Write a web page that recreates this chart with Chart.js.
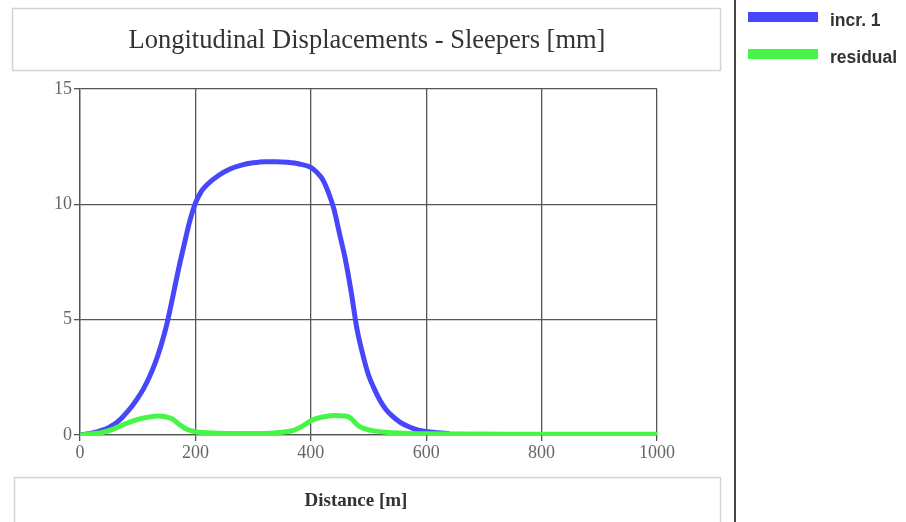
<!DOCTYPE html>
<html>
<head>
<meta charset="utf-8">
<script src="https://cdn.jsdelivr.net/npm/chart.js@4"></script>
<style>
  html, body { margin: 0; padding: 0; background: #fff; }
  #chart { display: block; }
</style>
</head>
<body>
<canvas id="chart" width="906" height="522"></canvas>
<script>
// distance along the track [m] and displacements [mm]
const distIncr = [0, 20, 40, 50, 60, 70, 80, 90, 100, 110, 120, 130, 140, 150, 160, 170, 180, 190, 200, 210, 220, 240, 260, 280, 300, 320, 340, 360, 380, 400, 410, 420, 430, 440, 450, 460, 470, 480, 490, 500, 510, 520, 530, 540, 555, 570, 585, 600, 620, 640];
const incr1 = [0, 0.08, 0.22, 0.33, 0.47, 0.68, 0.95, 1.25, 1.6, 2.0, 2.5, 3.1, 3.85, 4.75, 5.9, 7.1, 8.2, 9.25, 10.05, 10.55, 10.85, 11.25, 11.53, 11.7, 11.8, 11.85, 11.85, 11.82, 11.75, 11.6, 11.4, 11.1, 10.55, 9.8, 8.7, 7.6, 6.2, 4.6, 3.5, 2.6, 2.0, 1.5, 1.12, 0.85, 0.55, 0.36, 0.22, 0.15, 0.1, 0.06];

const distResid = [0, 20, 40, 60, 80, 100, 120, 135, 150, 160, 170, 185, 200, 240, 280, 320, 350, 370, 390, 400, 420, 440, 460, 470, 480, 490, 505, 530, 560, 600, 700, 800, 900, 1000];
const residual = [0, 0.05, 0.12, 0.28, 0.5, 0.68, 0.78, 0.82, 0.78, 0.7, 0.5, 0.25, 0.14, 0.08, 0.06, 0.07, 0.12, 0.2, 0.45, 0.62, 0.78, 0.85, 0.82, 0.72, 0.45, 0.3, 0.2, 0.12, 0.08, 0.05, 0.04, 0.03, 0.03, 0.03];

const xTicks = [0, 200, 400, 600, 800, 1000];
const yTicks = [0, 5, 10, 15];

const titleText = "Longitudinal Displacements - Sleepers [mm]";
const xTitleText = "Distance [m]";
const seriesNames = ["incr. 1", "residual"];
const seriesColors = ["#4646fa", "#46f546"];

function toPoints(xs, ys) {
    return xs.map((x, i) => ({x: x, y: ys[i]}));
}

// boxes, legend and separator drawn around the plot
const frame = {
    id: "frame",
    afterDraw(chart) {
        const ctx = chart.ctx;
        ctx.save();

        // title box
        ctx.strokeStyle = "#d4d4d4";
        ctx.lineWidth = 1.5;
        ctx.strokeRect(12.5, 8.5, 708, 62);
        ctx.fillStyle = "#333";
        ctx.font = "26.5px 'Liberation Serif'";
        ctx.textAlign = "center";
        ctx.textBaseline = "middle";
        ctx.fillText(titleText, 367, 41);

        // x axis title box
        ctx.strokeRect(14.5, 477.5, 706, 60);
        ctx.font = "bold 19px 'Liberation Serif'";
        ctx.fillText(xTitleText, 356, 501);

        // separator
        ctx.strokeStyle = "#444";
        ctx.lineWidth = 2;
        ctx.beginPath();
        ctx.moveTo(735, 0);
        ctx.lineTo(735, 522);
        ctx.stroke();

        // legend
        ctx.textAlign = "left";
        ctx.font = "bold 17.5px 'Liberation Sans'";
        seriesNames.forEach((name, i) => {
            const y = 17 + i * 37;
            ctx.fillStyle = seriesColors[i];
            ctx.fillRect(748, y - 5, 70, 10);
            ctx.fillStyle = "#333";
            ctx.fillText(name, 830, y + 4);
        });

        ctx.restore();
    }
};

const tickFont = {family: "'Liberation Serif'", size: 18};

new Chart(document.getElementById("chart"), {
    type: "line",
    data: {
        datasets: [{
            label: seriesNames[0],
            data: toPoints(distIncr, incr1),
            borderColor: seriesColors[0],
            borderWidth: 5,
            pointRadius: 0,
            cubicInterpolationMode: "monotone",
            order: 2
        }, {
            label: seriesNames[1],
            data: toPoints(distResid, residual),
            borderColor: seriesColors[1],
            borderWidth: 5,
            pointRadius: 0,
            cubicInterpolationMode: "monotone",
            order: 1
        }]
    },
    options: {
        responsive: false,
        animation: false,
        layout: {
            padding: {left: 0, top: 89, right: 249, bottom: 0}
        },
        plugins: {
            legend: {display: false},
            tooltip: {enabled: false}
        },
        scales: {
            x: {
                type: "linear",
                min: 0,
                max: 1000,
                afterBuildTicks: (s) => { s.ticks = xTicks.map(v => ({value: v})); },
                afterFit: (s) => { s.height = 87; },
                grid: {color: "#555", lineWidth: 1.3, tickLength: 6},
                border: {color: "#555", width: 1.3},
                ticks: {font: tickFont, color: "#666", padding: 1, maxRotation: 0,
                        callback: (v) => String(v)}
            },
            y: {
                min: 0,
                max: 15,
                afterBuildTicks: (s) => { s.ticks = yTicks.map(v => ({value: v})); },
                afterFit: (s) => { s.width = 80; },
                grid: {color: "#555", lineWidth: 1.3, tickLength: 6},
                border: {color: "#555", width: 1.3},
                ticks: {font: tickFont, color: "#666", padding: 2,
                        callback: (v) => String(v)}
            }
        }
    },
    plugins: [frame]
});
</script>
</body>
</html>
